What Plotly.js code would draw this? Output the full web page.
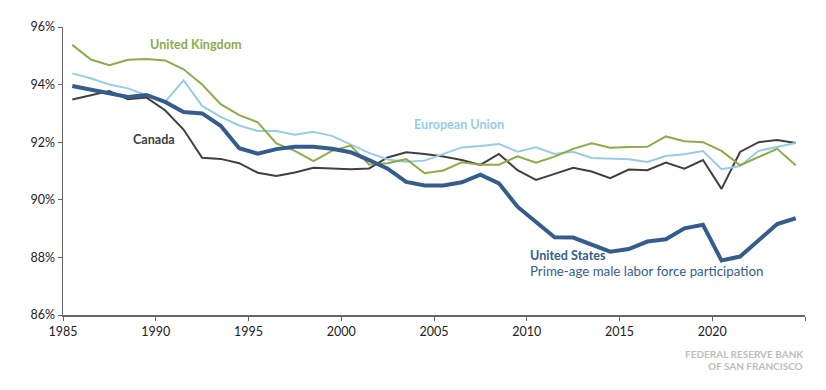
<!DOCTYPE html>
<html>
<head>
<meta charset="utf-8">
<script src="https://cdn.plot.ly/plotly-3.0.1.min.js"></script>
<style>html,body{margin:0;padding:0;background:#fff;}#chart{width:826px;height:390px;}</style>
</head>
<body>
<div id="chart"></div>
<script>
const years = [1985,1986,1987,1988,1989,1990,1991,1992,1993,1994,1995,1996,1997,1998,1999,2000,2001,2002,2003,2004,2005,2006,2007,2008,2009,2010,2011,2012,2013,2014,2015,2016,2017,2018,2019,2020,2021,2022,2023,2024];

const unitedKingdom = [95.38,94.87,94.67,94.86,94.89,94.84,94.53,94.00,93.32,92.94,92.69,91.96,91.70,91.34,91.70,91.88,91.23,91.27,91.41,90.92,91.02,91.30,91.22,91.22,91.51,91.29,91.50,91.77,91.96,91.81,91.83,91.84,92.20,92.03,92.00,91.70,91.20,91.49,91.77,91.20];

const europeanUnion = [94.39,94.22,94.00,93.87,93.63,93.40,94.15,93.26,92.88,92.58,92.39,92.39,92.26,92.36,92.22,91.93,91.63,91.40,91.32,91.36,91.58,91.82,91.87,91.94,91.67,91.82,91.59,91.67,91.45,91.42,91.41,91.31,91.52,91.58,91.69,91.06,91.17,91.70,91.84,91.97];

const canada = [93.48,93.63,93.78,93.49,93.55,93.11,92.44,91.46,91.42,91.27,90.94,90.83,90.95,91.11,91.09,91.06,91.09,91.47,91.65,91.59,91.50,91.38,91.21,91.59,91.03,90.69,90.90,91.11,90.98,90.75,91.05,91.03,91.29,91.08,91.38,90.38,91.66,92.00,92.08,91.97];

const unitedStates = [93.95,93.83,93.71,93.57,93.64,93.40,93.05,93.00,92.57,91.79,91.60,91.76,91.84,91.84,91.77,91.65,91.38,91.08,90.62,90.50,90.50,90.61,90.87,90.57,89.76,89.24,88.70,88.69,88.44,88.20,88.29,88.55,88.63,89.01,89.13,87.89,88.03,88.61,89.16,89.36];

const xTickVals = [1985,1990,1995,2000,2005,2010,2015,2020,2025];
const xTickText = ['1985','1990','1995','2000','2005','2010','2015','2020',''];
const yTickVals = [86,88,90,92,94,96];
const yTickText = ['86%','88%','90%','92%','94%','96%'];

const C_UK = '#8cab4a';
const C_EU = '#97cce5';
const C_CA = '#404040';
const C_US = '#355d8c';

// annual values plotted at mid-year
const xs = years.map(y => y + 0.5);

const traces = [
  {x: xs, y: canada, type: 'scatter', mode: 'lines', line: {color: C_CA, width: 2}, hoverinfo: 'skip'},
  {x: xs, y: europeanUnion, type: 'scatter', mode: 'lines', line: {color: C_EU, width: 2}, hoverinfo: 'skip'},
  {x: xs, y: unitedKingdom, type: 'scatter', mode: 'lines', line: {color: C_UK, width: 2}, hoverinfo: 'skip'},
  {x: xs, y: unitedStates, type: 'scatter', mode: 'lines', line: {color: C_US, width: 4}, hoverinfo: 'skip'}
];

const FONT = 'Lato, "Noto Sans", sans-serif';

const layout = {
  width: 826, height: 390,
  margin: {l: 63, r: 21, t: 27, b: 75},
  paper_bgcolor: '#ffffff', plot_bgcolor: '#ffffff',
  showlegend: false,
  font: {family: FONT, size: 12, color: '#222'},
  xaxis: {
    range: [1985, 2025], tickmode: 'array', tickvals: xTickVals, ticktext: xTickText,
    showgrid: false, zeroline: false, showline: true, linecolor: '#666', linewidth: 1.5,
    ticks: 'outside', ticklen: 4, tickcolor: '#666', tickwidth: 1,
    tickfont: {family: FONT, size: 12.5, color: '#222'}, fixedrange: true
  },
  yaxis: {
    range: [86, 96], tickmode: 'array', tickvals: yTickVals, ticktext: yTickText,
    showgrid: false, zeroline: false, showline: true, linecolor: '#666', linewidth: 1.5,
    ticks: 'outside', ticklen: 4, tickcolor: '#666', tickwidth: 1,
    tickfont: {family: FONT, size: 12.5, color: '#222'}, fixedrange: true
  },
  annotations: [
    {x: 1989.57, y: 95.40, xref: 'x', yref: 'y', xanchor: 'left', yanchor: 'middle', showarrow: false,
     text: '<b>United Kingdom</b>', font: {family: FONT, size: 12.6, color: C_UK}},
    {x: 2003.8, y: 92.63, xref: 'x', yref: 'y', xanchor: 'left', yanchor: 'middle', showarrow: false,
     text: '<b>European Union</b>', font: {family: FONT, size: 12.6, color: C_EU}},
    {x: 1988.65, y: 92.11, xref: 'x', yref: 'y', xanchor: 'left', yanchor: 'middle', showarrow: false,
     text: '<b>Canada</b>', font: {family: FONT, size: 12.6, color: C_CA}},
    {x: 2010.05, y: 88.05, xref: 'x', yref: 'y', xanchor: 'left', yanchor: 'middle', showarrow: false,
     text: '<b>United States</b>', font: {family: FONT, size: 12.6, color: C_US}},
    {x: 2010.05, y: 87.53, xref: 'x', yref: 'y', xanchor: 'left', yanchor: 'middle', showarrow: false,
     text: 'Prime-age male labor force participation', font: {family: FONT, size: 13.3, color: C_US}},
    {x: 1.0, y: -0.134, xref: 'paper', yref: 'paper', xanchor: 'right', yanchor: 'middle', showarrow: false,
     text: '<b>FEDERAL RESERVE BANK</b>', font: {family: FONT, size: 10, color: '#bdbdbd'}},
    {x: 1.0, y: -0.178, xref: 'paper', yref: 'paper', xanchor: 'right', yanchor: 'middle', showarrow: false,
     text: '<b>OF SAN FRANCISCO</b>', font: {family: FONT, size: 10, color: '#bdbdbd'}}
  ]
};

Plotly.newPlot('chart', traces, layout, {displayModeBar: false, staticPlot: true});
</script>
</body>
</html>
